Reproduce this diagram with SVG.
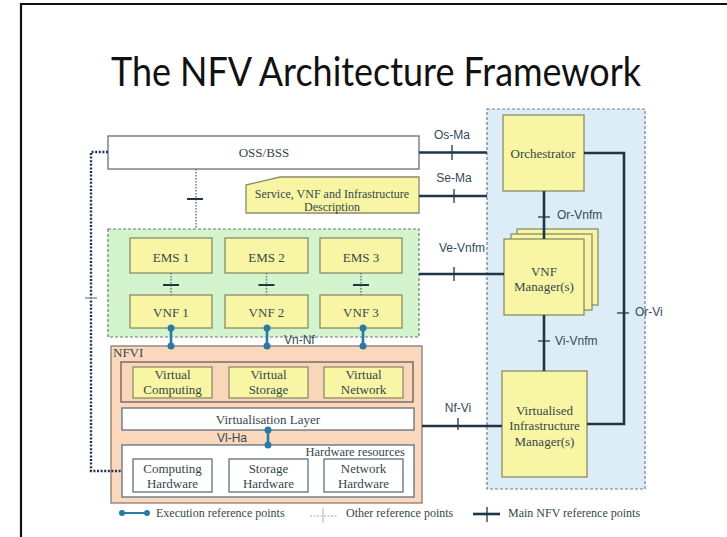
<svg xmlns="http://www.w3.org/2000/svg" width="727" height="537" viewBox="0 0 727 537">
<style>
.bg{fill:#ffffff}
.frame{fill:none;stroke:#111;stroke-width:2.2}
.title{font-family:Lato,"Open Sans","Liberation Sans",sans-serif;font-size:40px;fill:#111}
.yel{fill:#f8f6a4;stroke:#8a8c6a;stroke-width:1.3}
.wht{fill:#ffffff;stroke:#5f7080;stroke-width:1.3}
.grp-green{fill:#d3f4cd;stroke:#6b7a70;stroke-width:1.2;stroke-dasharray:3 2}
.grp-blue{fill:#ddedf7;stroke:#6e7e8e;stroke-width:1.2;stroke-dasharray:3 2}
.nfvi{fill:#fbd8bc;stroke:#8a7b70;stroke-width:1.3}
.inner{fill:#f9d6b9;stroke:#6a5a5a;stroke-width:1.3}
.t{font-family:"Liberation Serif","Times New Roman",serif;font-size:13px;fill:#34484a;text-anchor:middle}
.ts{font-family:"Liberation Serif","Times New Roman",serif;font-size:12px;fill:#34484a}
.lbl{font-family:"Liberation Sans",Arial,sans-serif;font-size:12px;fill:#34495a}
.main{fill:none;stroke:#1d3747;stroke-width:2.6}
.tick{fill:none;stroke:#1d3747;stroke-width:1.3}
.otick{fill:none;stroke:#1d3747;stroke-width:2}
.dot{fill:none;stroke:#6a7a80;stroke-width:1.5;stroke-dasharray:1.5 1.5}
.ddot{fill:none;stroke:#1d3450;stroke-width:2.4;stroke-dasharray:2 1.6}
.exec{fill:none;stroke:#2b7aa6;stroke-width:2.6}
.edot{fill:#2b7aa6}
.light{fill:none;stroke:#b5c8d6;stroke-width:1.3}
</style>
<rect class="bg" x="0" y="0" width="727" height="537"/>
<path class="frame" d="M21,537 V4 H727"/>
<text class="title" x="376" y="86" text-anchor="middle" textLength="530" lengthAdjust="spacingAndGlyphs">The NFV Architecture Framework</text>

<g id="mano">
  <rect class="grp-blue" x="487" y="109" width="158" height="380"/>
</g>
<g id="vnf-domain">
  <rect class="grp-green" x="108" y="229" width="311" height="108"/>
</g>

<g id="oss-bss">
  <rect class="wht" x="108" y="136" width="311" height="33"/>
  <text class="t" x="264" y="157">OSS/BSS</text>
</g>
<g id="service-desc">
  <polygon class="yel" points="246,185 280,177 419,177 419,213 246,213"/>
  <text class="t" x="332" y="198" style="font-size:12px">Service, VNF and Infrastructure</text>
  <text class="t" x="332" y="211" style="font-size:12px">Description</text>
</g>
<g id="orchestrator">
  <rect class="yel" x="503" y="115" width="81" height="76"/>
  <text class="t" x="543" y="157.5">Orchestrator</text>
</g>
<g id="vnf-manager">
  <rect class="yel" x="517" y="229" width="81" height="76"/>
  <rect class="yel" x="511" y="234" width="81" height="76"/>
  <rect class="yel" x="504" y="239" width="80" height="76"/>
  <text class="t" x="544" y="275.5">VNF</text>
  <text class="t" x="544" y="290.5">Manager(s)</text>
</g>
<g id="vim">
  <rect class="yel" x="502" y="371" width="85" height="106"/>
  <text class="t" x="544.5" y="414.5">Virtualised</text>
  <text class="t" x="544.5" y="429.5">Infrastructure</text>
  <text class="t" x="544.5" y="445.5">Manager(s)</text>
</g>
<g id="ems1"><rect class="yel" x="130" y="238" width="82" height="35"/><text class="t" x="171" y="262">EMS 1</text></g>
<g id="ems2"><rect class="yel" x="225" y="238" width="83" height="35"/><text class="t" x="266.5" y="262">EMS 2</text></g>
<g id="ems3"><rect class="yel" x="320" y="238" width="82" height="35"/><text class="t" x="361" y="262">EMS 3</text></g>
<g id="vnf1"><rect class="yel" x="130" y="295" width="82" height="33"/><text class="t" x="171" y="316.5">VNF 1</text></g>
<g id="vnf2"><rect class="yel" x="225" y="295" width="83" height="33"/><text class="t" x="266.5" y="316.5">VNF 2</text></g>
<g id="vnf3"><rect class="yel" x="320" y="295" width="82" height="33"/><text class="t" x="361" y="316.5">VNF 3</text></g>

<g id="nfvi">
  <rect class="nfvi" x="111" y="346" width="311" height="157"/>
  <text class="t" x="113" y="357" style="text-anchor:start">NFVI</text>
</g>
<g id="virtual-resources">
  <rect class="inner" x="121" y="362" width="292" height="40"/>
</g>
<g id="virtual-computing"><rect class="yel" x="133" y="367" width="79" height="31"/><text class="t" x="172.5" y="379">Virtual</text><text class="t" x="172.5" y="394">Computing</text></g>
<g id="virtual-storage"><rect class="yel" x="229" y="367" width="79" height="31"/><text class="t" x="268.5" y="379">Virtual</text><text class="t" x="268.5" y="394">Storage</text></g>
<g id="virtual-network"><rect class="yel" x="324" y="367" width="79" height="31"/><text class="t" x="363.5" y="379">Virtual</text><text class="t" x="363.5" y="394">Network</text></g>
<g id="virtualisation-layer">
  <rect class="wht" x="122" y="408" width="292" height="22"/>
  <text class="t" x="268" y="424">Virtualisation Layer</text>
</g>
<g id="hardware-resources">
  <rect class="wht" x="122" y="445" width="292" height="52"/>
  <text class="t" x="405" y="456" style="text-anchor:end;font-size:12.5px">Hardware resources</text>
</g>
<g id="computing-hw"><rect class="wht" x="133" y="459" width="79" height="33"/><text class="t" x="172.5" y="473">Computing</text><text class="t" x="172.5" y="488">Hardware</text></g>
<g id="storage-hw"><rect class="wht" x="229" y="459" width="79" height="33"/><text class="t" x="268.5" y="473">Storage</text><text class="t" x="268.5" y="488">Hardware</text></g>
<g id="network-hw"><rect class="wht" x="324" y="459" width="79" height="33"/><text class="t" x="363.5" y="473">Network</text><text class="t" x="363.5" y="488">Hardware</text></g>

<g id="connectors">
  <path class="ddot" d="M108,152 H91 V471 H122"/>
  <path class="dot" d="M85,298 H97" style="stroke-dasharray:none;stroke:#8a9aa6"/>
  <path class="dot" d="M196,169 V229"/>
  <path class="otick" d="M187,199 H203"/>
  <path class="dot" d="M171,273 V295 M266.5,273 V295 M361,273 V295"/>
  <path class="otick" d="M163,285 H179 M258.5,285 H274.5 M353,285 H369"/>
  <path class="main" d="M419,152.5 H487"/>
  <path class="tick" d="M452,145 V160"/>
  <text class="lbl" x="452" y="139" text-anchor="middle">Os-Ma</text>
  <path class="main" d="M419,196 H487"/>
  <path class="tick" d="M454,189 V203"/>
  <text class="lbl" x="454" y="182" text-anchor="middle">Se-Ma</text>
  <path class="main" d="M419,274 H504"/>
  <path class="tick" d="M454,267 V281"/>
  <text class="lbl" x="462" y="252" text-anchor="middle">Ve-Vnfm</text>
  <path class="main" d="M544,191 V239"/>
  <path class="tick" d="M538,217 H550"/>
  <text class="lbl" x="557" y="219">Or-Vnfm</text>
  <path class="main" d="M544,315 V371"/>
  <path class="tick" d="M538,341 H550"/>
  <text class="lbl" x="555" y="345">Vi-Vnfm</text>
  <path class="main" d="M584,153 H624 V424 H587"/>
  <path class="tick" d="M617,313 H629"/>
  <text class="lbl" x="635" y="316">Or-Vi</text>
  <path class="main" d="M422,426 H502"/>
  <path class="tick" d="M458,418 V430"/>
  <text class="lbl" x="458" y="412" text-anchor="middle">Nf-Vi</text>
  <path class="exec" d="M171,328 V346 M267,328 V346 M363,328 V346"/>
  <circle class="edot" cx="171" cy="328" r="3.5"/><circle class="edot" cx="171" cy="346" r="3.5"/>
  <circle class="edot" cx="267" cy="328" r="3.5"/><circle class="edot" cx="267" cy="346" r="3.5"/>
  <circle class="edot" cx="363" cy="328" r="3.5"/><circle class="edot" cx="363" cy="346" r="3.5"/>
  <text class="lbl" x="284" y="344">Vn-Nf</text>
  <path class="exec" d="M268,430 V445"/>
  <circle class="edot" cx="268" cy="430" r="3.5"/><circle class="edot" cx="268" cy="445" r="3.5"/>
  <text class="lbl" x="217" y="442">Vl-Ha</text>
</g>

<g id="legend">
  <path class="exec" d="M122,513 H147" style="stroke-width:2"/>
  <circle class="edot" cx="122" cy="513" r="3"/><circle class="edot" cx="147" cy="513" r="3"/>
  <text class="ts" x="156" y="517">Execution reference points</text>
  <path class="light" d="M310,516 H337" style="stroke-dasharray:2 1.5"/>
  <path class="light" d="M323,508 V523"/>
  <text class="ts" x="346" y="517">Other reference points</text>
  <path class="main" d="M473,514 H500"/>
  <path class="tick" d="M487,507 V522"/>
  <text class="ts" x="508" y="517">Main NFV reference points</text>
</g>
</svg>
